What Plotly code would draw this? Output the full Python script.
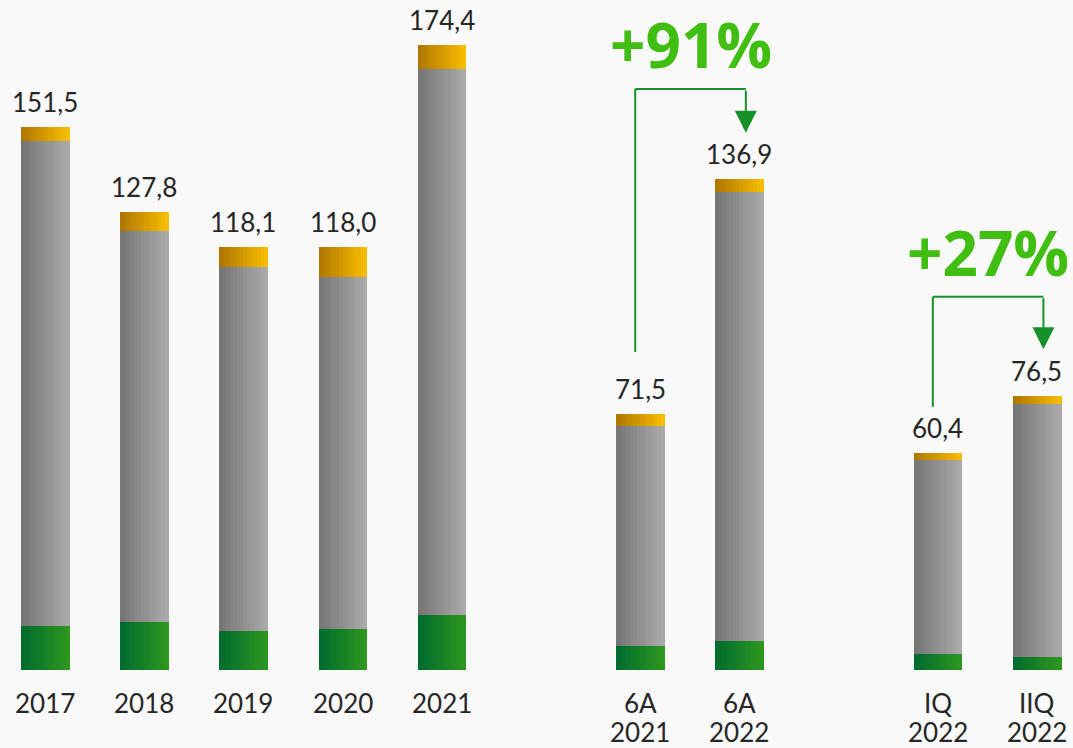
import plotly.graph_objects as go

# ---- data ----
categories = ["2017", "2018", "2019", "2020", "2021", "6A\n2021", "6A\n2022", "IQ\n2022", "IIQ\n2022"]
group_sizes = [5, 2, 2]
totals = [151.5, 127.8, 118.1, 118.0, 174.4, 71.5, 136.9, 60.4, 76.5]
green_part = [12.3, 13.4, 10.9, 11.4, 15.3, 6.7, 8.1, 4.5, 3.6]
orange_part = [3.9, 5.3, 5.6, 8.4, 6.7, 3.3, 3.6, 1.7, 2.2]
gray_part = [round(t - g - o, 1) for t, g, o in zip(totals, green_part, orange_part)]
growth_labels = ["+91%", "+27%"]
growth_pairs = [(5, 6), (7, 8)]

# positions: groups separated by one empty slot
xs = []
pos = 0
for gs in group_sizes:
    for i in range(gs):
        xs.append(pos)
        pos += 1
    pos += 1

BW = 0.485
N = 14

def lerp(c1, c2, t):
    return "rgb(%d,%d,%d)" % tuple(round(a + (b - a) * t) for a, b in zip(c1, c2))

fig = go.Figure()

segments = [
    (green_part, [0] * len(xs), (0, 108, 46), (45, 150, 30)),
    (gray_part, green_part, (118, 118, 118), (170, 170, 170)),
    (orange_part, [g + m for g, m in zip(green_part, gray_part)], (176, 120, 0), (248, 188, 0)),
]
for vals, base, c1, c2 in segments:
    for k in range(N):
        fig.add_trace(go.Bar(
            x=xs, y=vals, base=base,
            width=BW / N * 1.15,
            offset=-BW / 2 + k * BW / N,
            marker=dict(color=lerp(c1, c2, k / (N - 1)), line=dict(width=0)),
            hoverinfo="skip", showlegend=False,
        ))

FONT = "Lato"
TXT = "#262626"
# value labels
for x, t in zip(xs, totals):
    fig.add_annotation(x=x, y=t, text=f"{t:.1f}".replace(".", ","), showarrow=False,
                       yanchor="bottom", yshift=7, font=dict(family=FONT, size=26, color=TXT))
# category labels
for x, c in zip(xs, categories):
    for i, line in enumerate(c.split("\n")):
        fig.add_annotation(x=x, y=0, text=line, showarrow=False, yanchor="middle",
                           yshift=-33 - 29 * i, font=dict(family=FONT, size=26, color=TXT))

# growth brackets
LC = "#17922a"
tops = [162.1, 104.1]
for (a, b), lab, top in zip(growth_pairs, growth_labels, tops):
    xa = xs[a] - 0.05
    xb = xs[b] + 0.065
    ya = totals[a] + 17.2 if a == 5 else totals[a] + 13.0
    yb = totals[b] + 13.0
    fig.add_shape(type="line", x0=xa, x1=xa, y0=ya, y1=top, line=dict(color=LC, width=2))
    fig.add_shape(type="line", x0=xa, x1=xb, y0=top, y1=top, line=dict(color=LC, width=2))
    fig.add_annotation(x=xb, y=yb, ax=xb, ay=top, axref="x", ayref="y", xref="x", yref="y",
                       showarrow=True, arrowhead=2, arrowsize=2.2, arrowwidth=2, arrowcolor=LC, text="")
    fig.add_annotation(x=(xa + xb) / 2, y=top, text=f"<b>{lab}</b>", showarrow=False,
                       yanchor="middle", yshift=45, borderpad=0,
                       font=dict(family="Open Sans", size=62, color="#40bf12", weight=800))

fig.update_layout(
    width=1073, height=748,
    margin=dict(l=0, r=0, t=0, b=78),
    paper_bgcolor="#f9f9f9", plot_bgcolor="#f9f9f9",
    barmode="overlay", bargap=0,
    xaxis=dict(range=[-0.4536, 10.363], visible=False, fixedrange=True),
    yaxis=dict(range=[0, 186.9], visible=False, fixedrange=True),
)
fig.write_html("out.html", config={"displayModeBar": False},
               post_script="document.body.style.margin='0';document.body.style.overflow='hidden';")
